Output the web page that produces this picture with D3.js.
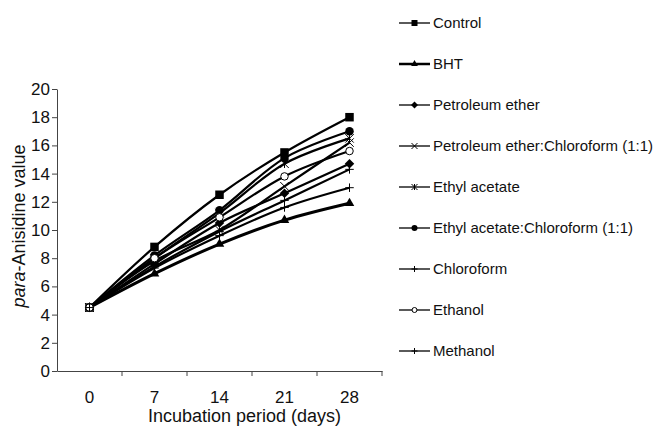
<!DOCTYPE html>
<html>
<head>
<meta charset="utf-8">
<script src="https://cdn.jsdelivr.net/npm/d3@7"></script>
<style>
  body { margin: 0; background: #fff; }
  svg { font-family: "Liberation Sans", Arial, sans-serif; }
</style>
</head>
<body>
<div class="canvas"></div>
<script>
// incubation days (categories)
const days = ["0", "7", "14", "21", "28"];
const yTicks = [0, 2, 4, 6, 8, 10, 12, 14, 16, 18, 20];

// para-anisidine values per extract
const control = [4.5, 8.8, 12.5, 15.5, 18.0];
const bht = [4.5, 6.9, 9.0, 10.7, 11.9];
const petEther = [4.5, 7.6, 10.5, 12.6, 14.7];
const petEtherChl = [4.5, 7.8, 10.0, 13.1, 16.2];
const ethylAcetate = [4.5, 8.0, 11.2, 14.7, 16.5];
const ethylAcetateChl = [4.5, 8.2, 11.4, 15.1, 17.0];
const chloroform = [4.5, 7.3, 9.6, 11.6, 13.0];
const ethanol = [4.5, 8.0, 10.9, 13.8, 15.6];
const methanol = [4.5, 7.4, 9.9, 12.1, 14.3];

const seriesNames = ["Control", "BHT", "Petroleum ether", "Petroleum ether:Chloroform (1:1)",
    "Ethyl acetate", "Ethyl acetate:Chloroform (1:1)", "Chloroform", "Ethanol", "Methanol"];
const seriesValues = [control, bht, petEther, petEtherChl, ethylAcetate, ethylAcetateChl,
    chloroform, ethanol, methanol];
const markers = ["square", "triangle", "diamond", "x", "asterisk", "dot", "plus", "circle", "plus"];

const width = 669, height = 428;
const svg = d3.select(".canvas")
    .append("svg")
    .attr("width", width)
    .attr("height", height);

const x = d3.scaleBand()
    .domain(days)
    .range([57, 382]);
const y = d3.scaleLinear()
    .domain([0, 20])
    .range([371, 89]);
const axisColour = "#444";
const font = "Liberation Sans, Arial, sans-serif";

// y axis
const yAxisGroup = svg.append("g")
    .attr("transform", `translate(${x.range()[0]}, 0)`)
    .call(d3.axisLeft(y).tickValues(yTicks).tickSize(5).tickPadding(2).tickSizeOuter(0));
yAxisGroup.select(".domain").attr("stroke", axisColour);
yAxisGroup.selectAll(".tick line").attr("stroke", axisColour);
yAxisGroup.selectAll("text")
    .attr("font-size", 17)
    .attr("fill", "#111")
    .attr("font-family", font);

// x axis (ticks between categories)
const xAxisGroup = svg.append("g")
    .attr("transform", `translate(0, ${y(0)})`)
    .call(d3.axisBottom(x).tickSize(0).tickPadding(20).tickSizeOuter(0));
xAxisGroup.select(".domain").attr("stroke", axisColour);
xAxisGroup.selectAll("text")
    .attr("font-size", 17)
    .attr("fill", "#111")
    .attr("font-family", font);
xAxisGroup.selectAll(".edge")
    .data(days.slice(1).concat(["end"]))
    .enter()
    .append("line")
    .attr("x1", d => d === "end" ? x.range()[1] : x(d))
    .attr("x2", d => d === "end" ? x.range()[1] : x(d))
    .attr("y1", 0)
    .attr("y2", 5)
    .attr("stroke", axisColour);

// axis titles
svg.append("text")
    .attr("x", (x.range()[0] + x.range()[1]) / 2 + 25)
    .attr("y", 422)
    .attr("text-anchor", "middle")
    .attr("font-size", 18)
    .attr("fill", "#111")
    .text("Incubation period (days)");

const yTitle = svg.append("text")
    .attr("transform", `translate(25, ${(y(0) + y(20)) / 2 - 4}) rotate(-90)`)
    .attr("text-anchor", "middle")
    .attr("font-size", 18)
    .attr("fill", "#111");
yTitle.append("tspan").attr("font-style", "italic").text("para");
yTitle.append("tspan").text("-Anisidine value");

// marker drawing
const drawMarker = (g, type, cx, cy, s) => {
    const m = g.append("g").attr("transform", `translate(${cx}, ${cy})`);
    if (type === "square") {
        m.append("rect").attr("x", -s / 2).attr("y", -s / 2).attr("width", s).attr("height", s).attr("fill", "#000");
    } else if (type === "triangle") {
        m.append("path").attr("d", d3.symbol(d3.symbolTriangle, s * s * 0.55)()).attr("fill", "#000");
    } else if (type === "diamond") {
        const r = s / 2 + 0.5;
        m.append("path").attr("d", `M0,${-r}L${r},0L0,${r}L${-r},0Z`).attr("fill", "#000");
    } else if (type === "dot") {
        m.append("circle").attr("r", s / 2).attr("fill", "#000");
    } else if (type === "circle") {
        m.append("circle").attr("r", s / 2 - 0.5).attr("fill", "#fff").attr("stroke", "#000").attr("stroke-width", 1);
    } else if (type === "x" || type === "asterisk") {
        const r = s / 2;
        m.append("path").attr("d", `M${-r},${-r}L${r},${r}M${-r},${r}L${r},${-r}` + (type === "asterisk" ? `M0,${-r}L0,${r}` : ""))
            .attr("stroke", "#000").attr("stroke-width", 1).attr("fill", "none");
    } else if (type === "plus") {
        const r = s / 2;
        m.append("path").attr("d", `M0,${-r}L0,${r}M${-r},0L${r},0`)
            .attr("stroke", "#000").attr("stroke-width", 1).attr("fill", "none");
    }
};

// lines
const line = d3.line()
    .x((d, i) => x(days[i]) + x.bandwidth() / 2)
    .y(d => y(d))
    .curve(d3.curveCatmullRom.alpha(0.5));

const plot = svg.append("g");
seriesValues.forEach((vals, si) => {
    plot.append("path")
        .attr("d", line(vals))
        .attr("fill", "none")
        .attr("stroke", "#000")
        .attr("stroke-width", si === 1 ? 3 : 2.2);
});
seriesValues.forEach((vals, si) => {
    vals.forEach((v, i) => {
        drawMarker(plot, markers[si], x(days[i]) + x.bandwidth() / 2, y(v), 8.5);
    });
});

// legend
const legend = svg.append("g");
seriesNames.forEach((name, i) => {
    const ly = 23 + i * 41;
    legend.append("line")
        .attr("x1", 399).attr("x2", 430)
        .attr("y1", ly).attr("y2", ly)
        .attr("stroke", "#000")
        .attr("stroke-width", i === 1 ? 2.5 : 1.3);
    drawMarker(legend, markers[i], 414.5, ly, 6);
    legend.append("text")
        .attr("x", 433)
        .attr("y", ly)
        .attr("dy", "0.35em")
        .attr("font-size", 15)
        .attr("fill", "#111")
        .text(name);
});
</script>
</body>
</html>
